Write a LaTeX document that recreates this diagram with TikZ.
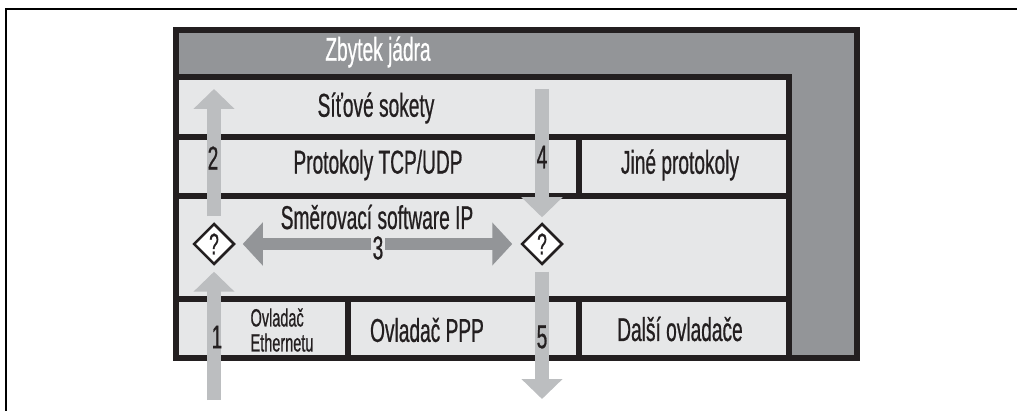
\documentclass[tikz,border=0pt]{standalone}
\usepackage{fontspec}
\setmainfont{Liberation Sans}[FakeStretch=0.58,FakeBold=0.6]
\usetikzlibrary{arrows.meta,shapes.geometric}
\definecolor{kblack}{HTML}{231F20}
\definecolor{kgray}{HTML}{939598}
\definecolor{klight}{HTML}{E6E7E8}
\definecolor{karrow}{HTML}{BCBEC0}
\tikzset{
  boxline/.style={draw=kblack, line width=6pt},
  lbl/.style={text=kblack, inner sep=1pt, font=\fontsize{33}{35}\selectfont},
  smalllbl/.style={text=kblack, inner sep=0pt, align=left, font=\fontsize{25}{25}\selectfont},
  numlbl/.style={text=kblack, inner sep=0pt, font=\fontsize{33}{35}\selectfont},
  decide/.style={diamond, draw=kblack, line width=2.5pt, fill=white, minimum width=41pt, minimum height=41pt, inner sep=0pt, text=kblack, font=\fontsize{30}{30}\selectfont},
  flow/.style={draw=karrow, line width=14pt, -{Triangle[length=20pt,width=40pt]}, color=karrow},
  route/.style={draw=kgray, line width=12pt, {Triangle[length=20pt,width=42pt]}-{Triangle[length=20pt,width=42pt]}, color=kgray}
}
\begin{document}
\begin{tikzpicture}[x=1pt,y=-1pt]
\useasboundingbox (0,0) rectangle (1017,411);
% outer frame
\draw[line width=1.5pt, black] (1017,9) -- (6,9) -- (6,411);
% main box
\fill[kgray] (173,27) rectangle (860,361);
\fill[klight] (176,77) rectangle (788.5,358);
\draw[boxline] (176,30) rectangle (857,358);
\draw[boxline] (176,77) -- (788.5,77) -- (788.5,358);
\draw[boxline] (176,137) -- (788.5,137);
\draw[boxline] (176,196) -- (788.5,196);
\draw[boxline] (176,299) -- (788.5,299);
\draw[boxline] (579,137) -- (579,196);
\draw[boxline] (348,299) -- (348,358);
\draw[boxline] (579,299) -- (579,358);
% texts
\node[lbl, text=white] (zb) at (378,52) {Zbytek jádra};
\node[lbl] (sok) at (376,108) {Síťové sokety};
\node[lbl] (tcp) at (378,165) {Protokoly TCP/UDP};
\node[lbl] (jine) at (680,165) {Jiné protokoly};
\node[lbl] (ip) at (377,217) {Směrovací software IP};
\node[smalllbl] (eth) at (282,330) {Ovladač\\Ethernetu};
\node[lbl] (ppp) at (427,330) {Ovladač PPP};
\node[lbl] (dalsi) at (680,329) {Další ovladače};
% decision points
\node[decide] (dl) at (214,244) {?};
\node[decide] (dr) at (542,244) {?};
\coordinate (in1) at (214,400);
\coordinate (out2) at (214,89);
\coordinate (in4) at (542,89);
\coordinate (out5) at (542,399);
% arrows
\draw[flow, shorten >=6pt] (in1) -- (dl.south);
\draw[flow, shorten <=6pt] (dl.north) -- (out2);
\draw[flow, shorten >=5pt] (in4) -- (dr.north);
\draw[flow, shorten <=6pt] (dr.south) -- (out5);
\draw[route, shorten <=7pt, shorten >=8pt] (dl.east) -- (dr.west);
% numbers
\node[numlbl] (n1) at (217,337) {1};
\node[numlbl] (n2) at (213,158) {2};
\node[numlbl, fill=klight, inner sep=1.5pt] (n3) at (378,248) {3};
\node[numlbl] (n4) at (542,157) {4};
\node[numlbl] (n5) at (542,337) {5};
\end{tikzpicture}
\end{document}
